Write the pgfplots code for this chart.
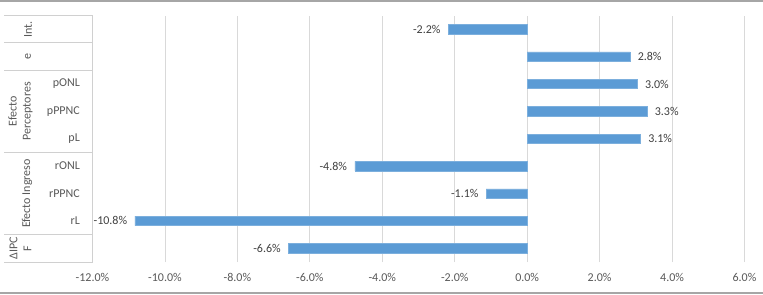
\documentclass[border=0pt]{standalone}
\usepackage{fontspec}
\setmainfont{Carlito}
\usepackage{pgfplots}
\pgfplotsset{compat=1.18}
\definecolor{barblue}{HTML}{5B9BD5}
\definecolor{gridgray}{HTML}{D9D9D9}
\definecolor{boxgray}{HTML}{D0D0D0}
\definecolor{txtgray}{HTML}{595959}
\definecolor{lblgray}{HTML}{404040}
\definecolor{framegray}{HTML}{A6A6A6}
\begin{document}
\begin{tikzpicture}
\useasboundingbox (0bp,0bp) rectangle (763bp,295bp);
\fill[white] (0bp,0bp) rectangle (763bp,295bp);
\draw[framegray, line width=2bp] (0bp,294bp) -- (763bp,294bp);
\draw[framegray, line width=2bp] (0bp,2bp) -- (763bp,2bp);
\begin{axis}[
  at={(92.5bp,33bp)}, anchor=south west,
  scale only axis, width=652bp, height=246.5bp,
  xmin=-12, xmax=6, ymin=-0.5, ymax=8.5,
  xtick={-12,-10,...,6},
  xmajorgrids, grid style={gridgray, line width=0.8bp},
  ytick={1,2,3,4,5,6},
  yticklabels={rL,rPPNC,rONL,pL,pPPNC,pONL},
  axis line style={draw=none},
  major tick length=0pt,
  xtick pos=bottom, ytick pos=left,
  /pgf/number format/assume math mode=true,
  xticklabel={\pgfmathprintnumber[fixed,fixed zerofill,precision=1]{\tick}\%},
  xticklabel style={text=txtgray, font=\fontsize{12bp}{14bp}\selectfont, anchor=center, yshift=-15.7bp},
  yticklabel style={text=txtgray, font=\fontsize{12bp}{14bp}\selectfont, anchor=east, inner sep=0pt, xshift=-12.5bp},
  clip=false,
]
\addplot[xbar, bar width=9.5bp, fill=barblue, draw=barblue!80!white, line width=0.5bp,
  point meta=x,
  nodes near coords={\pgfmathprintnumber[fixed,fixed zerofill,precision=1]{\pgfplotspointmeta}\%},
  nodes near coords align={horizontal},
  every node near coord/.append style={text=lblgray, font=\fontsize{12bp}{14bp}\selectfont, inner xsep=7.5bp, inner ysep=1bp},
] table {
x y
-6.59 0
-10.83 1
-1.13 2
-4.76 3
3.13 4
3.31 5
3.04 6
2.84 7
-2.18 8
};
% category axis line and box separators
\draw[boxgray, line width=0.8bp] (rel axis cs:0,0) -- (rel axis cs:0,1);
\pgfplotsinvokeforeach{8.5,7.5,6.5,3.5,0.5,-0.5}{
  \draw[boxgray, line width=0.8bp] (axis cs:-12,#1) -- ++(-88.5bp,0pt);
}
% outer rotated labels
\tikzset{outer/.style={text=txtgray, font=\fontsize{12bp}{14bp}\selectfont, rotate=90, align=center, inner sep=0pt}}
\node[outer] at ([xshift=-64.5bp]axis cs:-12,8) {Int.};
\node[outer] at ([xshift=-64.5bp]axis cs:-12,7) {e};
\node[outer] at ([xshift=-72bp]axis cs:-12,5) {Efecto\\Perceptores};
\node[outer] at ([xshift=-65.5bp]axis cs:-12,2) {Efecto Ingreso};
\node[outer] at ([xshift=-72bp]axis cs:-12,0) {ΔIPC\\F};
\end{axis}
\end{tikzpicture}
\end{document}
